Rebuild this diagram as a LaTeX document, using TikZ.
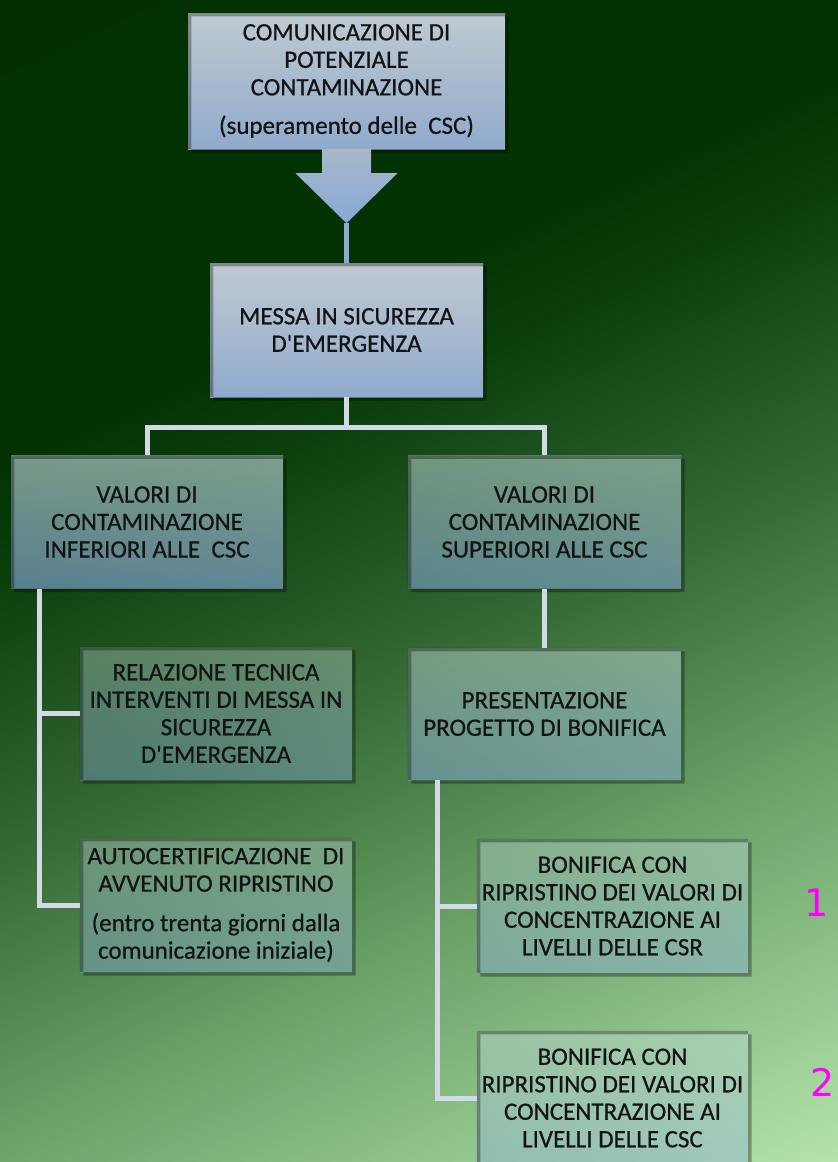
\documentclass[tikz,border=0pt]{standalone}
\usepackage{fontspec}
\setmainfont{Carlito}[FakeBold=0.6]
\newfontfamily\boxfont{Carlito}[FakeBold=0.6]
\newfontfamily\numfont{DejaVu Sans}
\usetikzlibrary{calc}

\definecolor{bg0}{HTML}{023002}
\definecolor{bg1}{HTML}{033303}
\definecolor{bg2}{HTML}{0A3E0A}
\definecolor{bg3}{HTML}{2F632F}
\definecolor{bg4}{HTML}{528A52}
\definecolor{bg5}{HTML}{68A066}
\definecolor{bg6}{HTML}{B4E4AC}
\definecolor{txt}{HTML}{131313}
\definecolor{lineC}{HTML}{D2DAE6}
\definecolor{lineB}{HTML}{8EAAD0}
\definecolor{headTop}{HTML}{C0CAD2}
\definecolor{headBot}{HTML}{90AACC}
\definecolor{arrTop}{HTML}{A8B8C8}
\definecolor{arrBot}{HTML}{88A8D6}
\definecolor{boxTop}{HTML}{C8DEE0}
\definecolor{boxBot}{HTML}{8CA9E6}
\definecolor{numC}{HTML}{FF00FF}

% diagonal background gradient, dark at the upper left, light at the lower right
\pgfdeclareverticalshading{bgshade}{100bp}{%
  color(0bp)=(bg0); color(20.7bp)=(bg0); color(38.3bp)=(bg1); color(42.4bp)=(bg2);
  color(51.8bp)=(bg3); color(59.4bp)=(bg4); color(63.5bp)=(bg5);
  color(79.3bp)=(bg6); color(100bp)=(bg6)}

\tikzset{
  box/.style={rectangle, inner sep=0pt, align=center, text=txt,
    minimum width=272, minimum height=133,
    font=\boxfont\fontsize{25}{27.5}\selectfont, text opacity=1},
  headbox/.style={box, top color=headTop, bottom color=headBot},
  subbox/.style={box, top color=boxTop, bottom color=boxBot, fill opacity=#1},
  link/.style={draw=lineC, line width=5pt},
  num/.style={text=numC, font=\numfont\fontsize{38}{40}\selectfont, inner sep=0pt}
}

% soft shadow right and below a named box
\newcommand\boxshade[1]{%
  \fill[black, opacity=.32, even odd rule]
    ([xshift=3.5pt,yshift=-3.5pt]#1.south west) rectangle ([xshift=3.5pt,yshift=-3.5pt]#1.north east)
    (#1.south west) rectangle (#1.north east);}

\begin{document}
\begin{tikzpicture}[x=1pt,y=-1pt]
\useasboundingbox (0,0) rectangle (838,1162);
\begin{scope}
  \clip (0,0) rectangle (838,1162);
  \shade[shading=bgshade, shading angle=205] (-181,-19) rectangle (1019,1181);
\end{scope}

% boxes
\node[headbox, minimum width=317, minimum height=136] (top) at (346.5,81)
  {COMUNICAZIONE DI\\ POTENZIALE\\ CONTAMINAZIONE\\[11pt] (superamento delle\ \ CSC)};
\node[headbox, minimum width=273, minimum height=134] (messa) at (346.5,330)
  {MESSA IN SICUREZZA\\ D\textquotesingle EMERGENZA};

\node[subbox=.6] (valL) at (147,522)
  {VALORI DI\\ CONTAMINAZIONE\\ INFERIORI ALLE\ \ CSC};
\node[subbox=.52, minimum width=273] (valR) at (544.5,522)
  {VALORI DI\\ CONTAMINAZIONE\\ SUPERIORI ALLE CSC};

\node[subbox=.36] (rel) at (216,713.5)
  {RELAZIONE TECNICA\\ INTERVENTI DI MESSA IN\\ SICUREZZA\\ D\textquotesingle EMERGENZA};
\node[subbox=.36, minimum height=134] (auto) at (216,905)
  {AUTOCERTIFICAZIONE\ \ DI\\ AVVENUTO RIPRISTINO\\[12pt] (entro trenta giorni dalla\\ comunicazione iniziale)};

\node[subbox=.45, minimum width=273, minimum height=132] (pres) at (544.5,714)
  {PRESENTAZIONE\\ PROGETTO DI BONIFICA};

\node[subbox=.38, minimum width=271, minimum height=134] (bon1) at (612.5,906)
  {BONIFICA CON\\ RIPRISTINO DEI VALORI DI\\ CONCENTRAZIONE AI\\ LIVELLI DELLE CSR};
\node[subbox=.38, minimum width=271, minimum height=134] (bon2) at (612.5,1098)
  {BONIFICA CON\\ RIPRISTINO DEI VALORI DI\\ CONCENTRAZIONE AI\\ LIVELLI DELLE CSC};

\foreach \b in {top,messa,valL,valR,rel,auto,pres,bon1,bon2} {\boxshade{\b}}

% block arrow below the first box
\coordinate (tip) at ($(top.south)+(0,74)$);
\shade[top color=arrTop, bottom color=arrBot]
  ($(top.south)+(-24.5,0)$) -- ($(top.south)+(24.5,0)$) -- ($(top.south)+(24.5,24)$)
  -- ($(top.south)+(51,24)$) -- (tip) -- ($(top.south)+(-51,24)$)
  -- ($(top.south)+(-24.5,24)$) -- cycle;
\draw[draw=lineB, line width=5pt] (tip) -- (messa.north);

% tree connectors
\coordinate (split) at ($(messa.south)+(0,30)$);
\draw[link] (messa.south) -- (split);
\draw[link, line join=miter] (valL.north) |- (split) -| (valR.north);

\coordinate (lTop) at ($(valL.south west)+(29,0)$);
\coordinate (lEnd) at (lTop |- auto.west);
\draw[link] (lTop) -- (lEnd) -- (auto.west);
\draw[link] (lTop |- rel.west) -- (rel.west);

\draw[link] (valR.south) -- (pres.north);

\coordinate (rTop) at ($(pres.south west)+(30,0)$);
\coordinate (rEnd) at (rTop |- bon2.west);
\draw[link] (rTop) -- (rEnd) -- (bon2.west);
\draw[link] (rTop |- bon1.west) -- (bon1.west);

% markers beside the two remediation boxes
\node[num] (n1) at (817,903) {1};
\node[num] (n2) at (823,1082) {2};
\end{tikzpicture}
\end{document}
